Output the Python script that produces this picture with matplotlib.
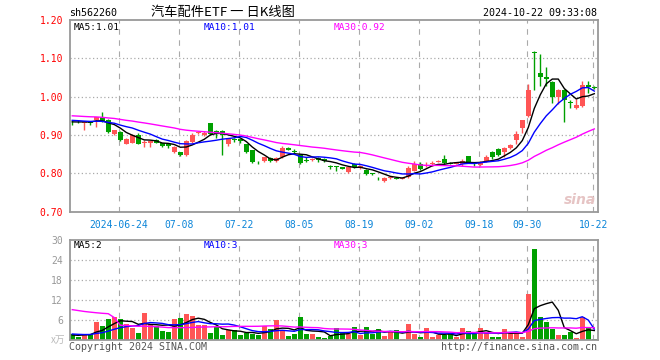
import numpy as np
import pandas as pd
import matplotlib
matplotlib.use('Agg')
import matplotlib.pyplot as plt

# daily candles 2024-06-12 .. 2024-10-22 (88 trading days)
open_ = [0.937, 0.936, 0.932, 0.934, 0.938, 0.947, 0.938, 0.903, 0.908, 0.877,
         0.880, 0.899, 0.878, 0.880, 0.886, 0.878, 0.875, 0.855, 0.855, 0.847,
         0.881, 0.904, 0.900, 0.930, 0.910, 0.910, 0.877, 0.890, 0.888, 0.875,
         0.860, 0.830, 0.833, 0.840, 0.832, 0.842, 0.866, 0.857, 0.847, 0.835,
         0.835, 0.840, 0.838, 0.820, 0.818, 0.815, 0.803, 0.825, 0.815, 0.809,
         0.800, 0.790, 0.779, 0.787, 0.787, 0.786, 0.790, 0.807, 0.825, 0.818,
         0.823, 0.830, 0.836, 0.827, 0.825, 0.823, 0.844, 0.826, 0.822, 0.832,
         0.855, 0.864, 0.855, 0.866, 0.886, 0.919, 0.949, 1.117, 1.062, 1.052,
         1.039, 1.000, 1.017, 0.985, 0.970, 0.975, 1.030, 1.026]
high = [0.940, 0.938, 0.936, 0.936, 0.948, 0.960, 0.942, 0.914, 0.910, 0.893,
        0.903, 0.905, 0.887, 0.886, 0.890, 0.880, 0.876, 0.870, 0.856, 0.886,
        0.905, 0.910, 0.910, 0.932, 0.912, 0.912, 0.890, 0.892, 0.890, 0.877,
        0.861, 0.831, 0.843, 0.842, 0.842, 0.870, 0.868, 0.862, 0.848, 0.843,
        0.840, 0.842, 0.839, 0.821, 0.819, 0.816, 0.818, 0.827, 0.822, 0.810,
        0.801, 0.791, 0.789, 0.791, 0.788, 0.789, 0.820, 0.833, 0.828, 0.830,
        0.833, 0.834, 0.847, 0.829, 0.830, 0.837, 0.845, 0.827, 0.831, 0.847,
        0.857, 0.865, 0.868, 0.875, 0.909, 0.940, 1.032, 1.118, 1.111, 1.078,
        1.042, 1.020, 1.020, 0.990, 0.995, 1.040, 1.040, 1.028]
low = [0.927, 0.932, 0.912, 0.925, 0.921, 0.933, 0.905, 0.900, 0.884, 0.876,
       0.878, 0.876, 0.868, 0.868, 0.878, 0.868, 0.866, 0.852, 0.845, 0.845,
       0.880, 0.902, 0.898, 0.900, 0.893, 0.848, 0.870, 0.882, 0.878, 0.853,
       0.827, 0.823, 0.830, 0.830, 0.828, 0.840, 0.860, 0.852, 0.824, 0.828,
       0.832, 0.829, 0.828, 0.810, 0.806, 0.810, 0.800, 0.814, 0.812, 0.795,
       0.795, 0.782, 0.777, 0.785, 0.784, 0.784, 0.788, 0.805, 0.808, 0.816,
       0.818, 0.828, 0.825, 0.823, 0.823, 0.820, 0.826, 0.818, 0.818, 0.830,
       0.838, 0.845, 0.843, 0.862, 0.876, 0.906, 0.947, 1.017, 1.028, 1.027,
       0.983, 0.980, 0.934, 0.970, 0.968, 0.972, 1.010, 1.020]
close = [0.935, 0.935, 0.934, 0.932, 0.947, 0.936, 0.908, 0.912, 0.886, 0.890,
         0.900, 0.877, 0.882, 0.883, 0.880, 0.872, 0.872, 0.868, 0.847, 0.883,
         0.899, 0.908, 0.906, 0.903, 0.903, 0.900, 0.888, 0.887, 0.883, 0.855,
         0.829, 0.829, 0.842, 0.832, 0.840, 0.866, 0.861, 0.855, 0.826, 0.833,
         0.838, 0.835, 0.831, 0.815, 0.816, 0.812, 0.816, 0.816, 0.818, 0.797,
         0.797, 0.789, 0.787, 0.789, 0.785, 0.787, 0.814, 0.825, 0.810, 0.822,
         0.826, 0.832, 0.826, 0.825, 0.829, 0.833, 0.828, 0.823, 0.828, 0.842,
         0.843, 0.847, 0.866, 0.873, 0.902, 0.938, 1.017, 1.115, 1.052, 1.045,
         1.000, 1.017, 0.992, 0.982, 0.978, 1.030, 1.026, 1.022]
# volume, 万手
volume = [1.7, 1.0, 1.9, 1.9, 5.4, 4.2, 6.3, 6.8, 6.2, 4.7,
          3.7, 2.1, 8.2, 4.7, 4.3, 2.8, 2.5, 6.3, 6.7, 7.8,
          7.3, 4.6, 4.6, 2.1, 4.0, 1.6, 2.9, 3.1, 1.6, 2.0,
          1.7, 1.6, 4.1, 3.3, 6.0, 2.8, 1.3, 1.7, 6.9, 1.8,
          1.8, 0.9, 0.7, 1.2, 3.5, 2.5, 1.7, 3.9, 1.5, 3.9,
          1.8, 3.3, 1.3, 2.4, 3.0, 0.3, 4.8, 1.8, 1.0, 3.6,
          1.0, 1.4, 1.5, 1.7, 1.0, 3.6, 2.7, 1.7, 3.6, 2.4,
          1.0, 1.0, 3.3, 2.4, 2.4, 1.0, 13.9, 27.3, 6.9, 5.4,
          3.4, 1.5, 1.4, 2.5, 0.6, 6.9, 3.9, 0.3]

# sessions before the first candle, only needed for the moving averages
prev_close = [0.958, 0.962, 0.955, 0.960, 0.965, 0.958, 0.952, 0.960, 0.963, 0.957,
              0.955, 0.950, 0.958, 0.961, 0.954, 0.950, 0.948, 0.952, 0.950, 0.946,
              0.944, 0.945, 0.940, 0.942, 0.939, 0.936, 0.933, 0.935, 0.931]
prev_volume = [9, 10, 8, 11, 9, 10, 42, 75, 6.5, 7.0,
               6.0, 7.5, 6.8, 7.2, 6.0, 7.0, 6.5, 7.5, 6.5, 6.5,
               2.0, 2.5, 1.8, 2.2, 2.0, 1.5, 1.2, 1.6, 1.5]

tick_idx = [8, 18, 28, 38, 48, 58, 68, 76, 87]
tick_labels = ['2024-06-24', '07-08', '07-22', '08-05', '08-19', '09-02', '09-18', '09-30', '10-22']

ma_periods = [5, 10, 30]
ma_colors = ['black', '#0000ff', '#ff00ff']
ma_price_text = ['1.01', '1.01', '0.92']
ma_vol_text = ['2', '3', '3']

RED = '#ff5555'
GREEN = '#00a000'
GRID = '#aaaaaa'
MONO = 'DejaVu Sans Mono'

n = len(close)
x = np.arange(n)
o = np.array(open_)
c = np.array(close)
colors = [RED if c[i] >= o[i] else GREEN for i in range(n)]

all_close = pd.Series(prev_close + close)
all_vol = pd.Series(prev_volume + volume)

W, H = 660, 360
fig = plt.figure(figsize=(6.6, 3.6), dpi=100)
ax = fig.add_axes([70 / W, 1 - 211.5 / H, 528 / W, 191.5 / H])
axv = fig.add_axes([70 / W, 20 / H, 528 / W, 100 / H])

for a in (ax, axv):
    a.set_xlim(-0.38, n - 0.38)
    for s in a.spines.values():
        s.set_color('#999999')
        s.set_linewidth(1.3)
    for t in tick_idx:
        a.axvline(t - 0.2, color=GRID, lw=0.8, dashes=(5, 5), zorder=0)
    a.tick_params(length=0)
    a.set_xticks([])

# price panel
ax.set_ylim(0.70, 1.20)
for lv in [0.8, 0.9, 1.0, 1.1]:
    ax.axhline(lv, color=GRID, lw=0.9, dashes=(1, 2), zorder=0)
ax.set_yticks([0.7, 0.8, 0.9, 1.0, 1.1, 1.2])
ax.set_yticklabels(['%.2f' % v for v in [0.7, 0.8, 0.9, 1.0, 1.1, 1.2]],
                   color='red', fontsize=7, family=MONO)
ax.tick_params(axis='y', pad=5)

ax.vlines(x, low, high, colors=colors, lw=1, zorder=2)
body_h = np.maximum(np.abs(c - o), 0.0012)
ax.bar(x, body_h, bottom=np.minimum(o, c), width=0.78, color=colors, zorder=3)

for p, col in zip(ma_periods, ma_colors):
    ma = all_close.rolling(p).mean().values[-n:]
    ax.plot(x, ma, color=col, lw=1, zorder=4)

# volume panel
axv.set_ylim(0, 30)
for lv in [6, 12, 18, 24]:
    axv.axhline(lv, color=GRID, lw=0.9, dashes=(1, 2), zorder=0)
axv.set_yticks([6, 12, 18, 24, 30])
axv.set_yticklabels(['6', '12', '18', '24', '30'], color='#999999', fontsize=7, family=MONO)
axv.tick_params(axis='y', pad=5)
axv.bar(x, volume, width=0.83, color=colors, zorder=2)
for p, col in zip(ma_periods, ma_colors):
    ma = all_vol.rolling(p).mean().values[-n:]
    axv.plot(x, ma, color=col, lw=1, zorder=4)

# x labels
for t, lab in zip(tick_idx, tick_labels):
    ax.text(t - 0.2, -0.045, lab, transform=ax.get_xaxis_transform(), ha='center', va='top',
            color='#0a84d8', fontsize=7, family=MONO)


def ftext(px, py, s, **kw):
    fig.text(px / W, 1 - py / H, s, **kw)


ftext(69, 13, 'sh562260', ha='left', va='center', fontsize=7.2, family=MONO)
ftext(223, 12, '汽车配件ETF 一 日K线图', ha='center', va='center', fontsize=9.5,
      family=['Noto Sans CJK SC', 'DejaVu Sans'])
ftext(597, 13, '2024-10-22 09:33:08', ha='right', va='center', fontsize=7.2, family=MONO)

for px, p, col, s in zip([74, 204, 334], ma_periods, ma_colors, ma_price_text):
    ftext(px, 27, 'MA%d:%s' % (p, s), ha='left', va='center', color=col, fontsize=6.8, family=MONO)
for px, p, col, s in zip([74, 204, 334], ma_periods, ma_colors, ma_vol_text):
    ftext(px, 246, 'MA%d:%s' % (p, s), ha='left', va='center', color=col, fontsize=6.8, family=MONO)

ftext(65, 340, 'x万', ha='right', va='center', color='#bbbbbb', fontsize=7,
      family=['Noto Sans CJK SC', 'DejaVu Sans'], style='italic')
ftext(69, 347, 'Copyright 2024 SINA.COM', ha='left', va='center', color='#555555',
      fontsize=7.2, family=MONO)
ftext(597, 347, 'http://finance.sina.com.cn', ha='right', va='center', color='#555555',
      fontsize=7.2, family=MONO)
ftext(596, 200, 'sina', ha='right', va='center', color='#e6c4c4', fontsize=10,
      style='italic', weight='bold', family='DejaVu Sans')

fig.savefig('out.png', dpi=100, facecolor='white')
